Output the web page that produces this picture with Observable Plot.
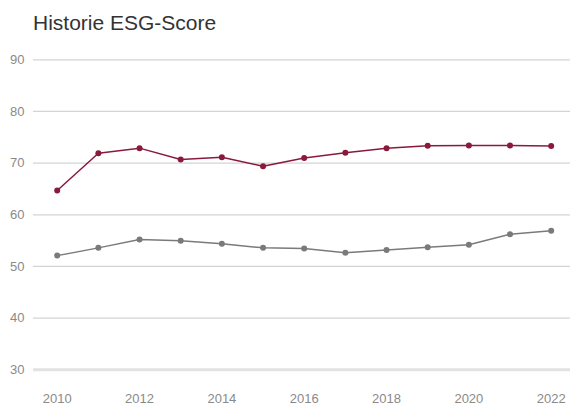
<!DOCTYPE html>
<html>
<head>
<meta charset="utf-8">
<script src="https://cdn.jsdelivr.net/npm/d3@7"></script>
<script src="https://cdn.jsdelivr.net/npm/@observablehq/plot@0.6"></script>
<style>
  html, body { margin: 0; padding: 0; background: #fff; }
  #wrap { position: relative; width: 570px; height: 406px; font-family: "Liberation Sans", Arial, sans-serif; }
  #title { position: absolute; left: 33px; top: 12px; font-size: 21px; line-height: 1; color: #333; white-space: nowrap; }
  #chart { position: absolute; left: 0; top: 40px; }
</style>
</head>
<body>
<div id="wrap">
  <div id="title">Historie ESG-Score</div>
  <div id="chart"></div>
</div>
<script>
const years = [2010, 2011, 2012, 2013, 2014, 2015, 2016, 2017, 2018, 2019, 2020, 2021, 2022];
const companyScores = [64.7, 71.9, 72.9, 70.7, 71.15, 69.4, 71.0, 72.0, 72.9, 73.35, 73.4, 73.4, 73.3];
const peerScores = [52.1, 53.6, 55.2, 55.0, 54.4, 53.6, 53.5, 52.65, 53.2, 53.7, 54.2, 56.25, 56.9];
const yTicks = [30, 40, 50, 60, 70, 80, 90];
const xTicks = [2010, 2012, 2014, 2016, 2018, 2020, 2022];

const company = years.map((y, i) => ({year: y, value: companyScores[i]}));
const peers = years.map((y, i) => ({year: y, value: peerScores[i]}));

const red = "#8a1a3c";
const grey = "#7a7a7a";

const plot = Plot.plot({
  width: 570,
  height: 366,
  marginLeft: 33,
  marginRight: 0,
  marginTop: 19.3,
  marginBottom: 36.7,
  style: {fontFamily: "'Liberation Sans', Arial, sans-serif", fontSize: "13px", color: "#8a8a8a", background: "#fff"},
  x: {domain: [2009.424, 2022.469], ticks: xTicks, tickFormat: d => String(d), tickSize: 0, tickPadding: 24, label: null},
  y: {domain: [30, 90], ticks: yTicks, tickSize: 0, tickPadding: 9, label: null},
  marks: [
    Plot.ruleY(yTicks, {stroke: "#d4d4d4", strokeWidth: 1.2}),
    Plot.ruleY([30], {stroke: "#e2e2e2", strokeWidth: 3}),
    Plot.line(peers, {x: "year", y: "value", stroke: grey, strokeWidth: 1.5}),
    Plot.dot(peers, {x: "year", y: "value", fill: grey, r: 3}),
    Plot.line(company, {x: "year", y: "value", stroke: red, strokeWidth: 1.5}),
    Plot.dot(company, {x: "year", y: "value", fill: red, r: 3})
  ]
});
document.getElementById("chart").appendChild(plot);
</script>
</body>
</html>
